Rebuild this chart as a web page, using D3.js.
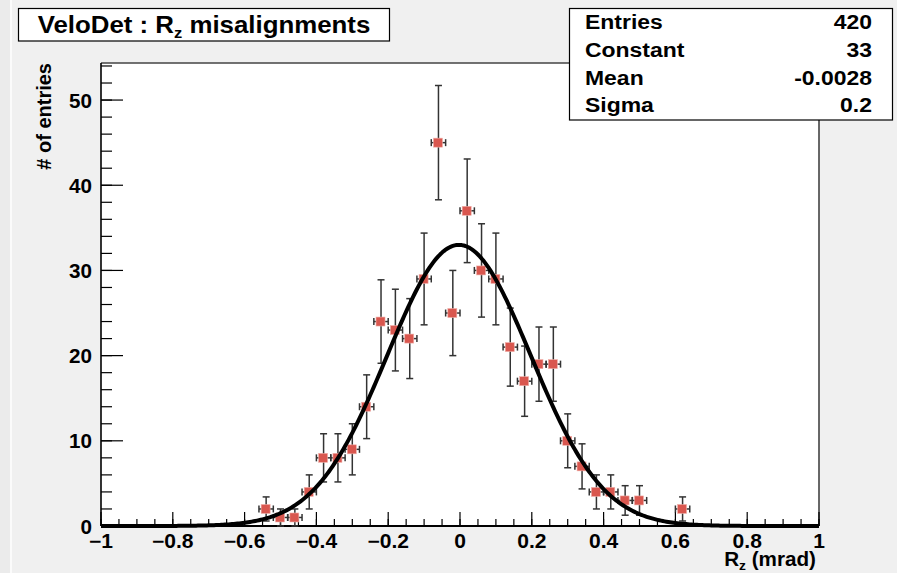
<!DOCTYPE html>
<html>
<head>
<meta charset="utf-8">
<script src="https://cdn.jsdelivr.net/npm/d3@7"></script>
<style>
  html, body { margin: 0; padding: 0; background: #f0f0f0; }
  svg { display: block; font-family: "Liberation Sans", Arial, Helvetica, sans-serif; font-weight: bold; }
</style>
</head>
<body>
<svg id="chart" width="897" height="573"></svg>
<script>
// Histogram: bin centres (width 0.04) and entry counts
const binCenters = [-0.54, -0.50, -0.46, -0.42, -0.38, -0.34, -0.30, -0.26, -0.22, -0.18,
                    -0.14, -0.10, -0.06, -0.02, 0.02, 0.06, 0.10, 0.14, 0.18, 0.22,
                    0.26, 0.30, 0.34, 0.38, 0.42, 0.46, 0.50, 0.54, 0.58, 0.62];
const counts = [2, 1, 1, 4, 8, 8, 9, 14, 24, 23,
                22, 29, 45, 25, 37, 30, 29, 21, 17, 19,
                19, 10, 7, 4, 4, 3, 3, 0, 0, 2];
const binWidth = 0.04;

// Gaussian fit parameters
const fitConstant = 33;
const fitMean = -0.0028;
const fitSigma = 0.2;

// Statistics box rows
const statLabels = ["Entries", "Constant", "Mean", "Sigma"];
const statValues = ["420", "33", "-0.0028", "0.2"];

// Axis ticks
const xTicks = [-1, -0.8, -0.6, -0.4, -0.2, 0, 0.2, 0.4, 0.6, 0.8, 1];
const yTicks = [0, 10, 20, 30, 40, 50];

const svg = d3.select("#chart");
const W = 897, H = 573;
const frame = { left: 101, right: 819, top: 63, bottom: 526 };

// Text placed at (px, py) and widened horizontally by factor k
const wide = (sel, px, py, k) => sel.attr("transform", `translate(${px},${py}) scale(${k},1)`);

svg.append("rect").attr("width", W).attr("height", H).attr("fill", "#f0f0f0");
svg.append("rect").attr("x", 0).attr("y", 0).attr("width", 10).attr("height", H).attr("fill", "#ebebeb");
svg.append("rect").attr("x", 10).attr("y", 0).attr("width", 2).attr("height", H).attr("fill", "#fbfbfb");

const x = d3.scaleLinear().domain([-1, 1]).range([frame.left, frame.right]);
const y = d3.scaleLinear().domain([0, 54.35]).range([frame.bottom, frame.top]);

// Plot frame
svg.append("rect")
  .attr("x", frame.left).attr("y", frame.top)
  .attr("width", frame.right - frame.left).attr("height", frame.bottom - frame.top)
  .attr("fill", "#ffffff");
svg.append("path")
  .attr("d", `M${frame.left},${frame.top}H${frame.right}V${frame.bottom}`)
  .attr("fill", "none").attr("stroke", "#444").attr("stroke-width", 1.6);

// X axis: major ticks every 0.2, minor every 0.05, drawn inwards
const xMinor = d3.range(-1, 1.0001, 0.05).map(v => +v.toFixed(2));
const gx = svg.append("g");
gx.selectAll("line.minor").data(xMinor).join("line")
  .attr("x1", d => x(d)).attr("x2", d => x(d))
  .attr("y1", frame.bottom).attr("y2", frame.bottom - 7)
  .attr("stroke", "#000").attr("stroke-width", 1.2);
gx.selectAll("line.major").data(xTicks).join("line")
  .attr("x1", d => x(d)).attr("x2", d => x(d))
  .attr("y1", frame.bottom).attr("y2", frame.bottom - 14)
  .attr("stroke", "#000").attr("stroke-width", 1.2);
gx.selectAll("text").data(xTicks).join("text")
  .each(function (d) { wide(d3.select(this), x(d), 548, 1.08); })
  .attr("text-anchor", "middle")
  .attr("font-size", 19.5)
  .attr("fill", "#000")
  .text(d => d3.format("")(d));

// Y axis: major ticks every 10, minor every 2, drawn inwards
const yMinor = d3.range(0, 54.1, 2);
const gy = svg.append("g");
gy.selectAll("line.minor").data(yMinor).join("line")
  .attr("x1", frame.left).attr("x2", frame.left + 11)
  .attr("y1", d => y(d)).attr("y2", d => y(d))
  .attr("stroke", "#000").attr("stroke-width", 1.2);
gy.selectAll("line.major").data(yTicks).join("line")
  .attr("x1", frame.left).attr("x2", frame.left + 22)
  .attr("y1", d => y(d)).attr("y2", d => y(d))
  .attr("stroke", "#000").attr("stroke-width", 1.2);
gy.selectAll("text").data(yTicks).join("text")
  .each(function (d) { wide(d3.select(this), 92, y(d) + 7.5, 1.06); })
  .attr("text-anchor", "end")
  .attr("font-size", 19.5)
  .attr("fill", "#000")
  .text(d => d);

// Axis lines
svg.append("line").attr("x1", frame.left).attr("x2", frame.left)
  .attr("y1", frame.top).attr("y2", frame.bottom)
  .attr("stroke", "#000").attr("stroke-width", 1.6);
svg.append("line").attr("x1", frame.left).attr("x2", frame.right)
  .attr("y1", frame.bottom).attr("y2", frame.bottom)
  .attr("stroke", "#000").attr("stroke-width", 2.2);

// Axis titles
const xt = wide(svg.append("text"), 816, 566, 1.06)
  .attr("text-anchor", "end").attr("font-size", 19.5).attr("fill", "#000");
xt.append("tspan").text("R");
xt.append("tspan").attr("font-size", 13).attr("dy", 4).text("z");
xt.append("tspan").attr("dy", -4).text(" (mrad)");

svg.append("text")
  .attr("transform", "translate(51,63) rotate(-90)")
  .attr("text-anchor", "end").attr("font-size", 20).attr("fill", "#000")
  .text("# of entries");

// Histogram points with statistical error bars
const points = binCenters.map((c, i) => ({ c, n: counts[i] })).filter(d => d.n > 0);
const gp = svg.append("g");
const errColor = "#333";
points.forEach(d => {
  const cx = x(d.c), cy = y(d.n);
  const e = Math.sqrt(d.n);
  const x0 = x(d.c - binWidth / 2), x1 = x(d.c + binWidth / 2);
  const yt = y(d.n + e), yb = y(Math.max(0, d.n - e));
  const g = gp.append("g");
  // vertical error
  g.append("line").attr("x1", cx).attr("x2", cx).attr("y1", yt).attr("y2", yb)
    .attr("stroke", errColor).attr("stroke-width", 1.5);
  g.append("line").attr("x1", cx - 3.5).attr("x2", cx + 3.5).attr("y1", yt).attr("y2", yt)
    .attr("stroke", errColor).attr("stroke-width", 1.5);
  g.append("line").attr("x1", cx - 3.5).attr("x2", cx + 3.5).attr("y1", yb).attr("y2", yb)
    .attr("stroke", errColor).attr("stroke-width", 1.5);
  // horizontal (bin width) error
  g.append("line").attr("x1", x0).attr("x2", x1).attr("y1", cy).attr("y2", cy)
    .attr("stroke", errColor).attr("stroke-width", 1.5);
  g.append("line").attr("x1", x0).attr("x2", x0).attr("y1", cy - 3.5).attr("y2", cy + 3.5)
    .attr("stroke", errColor).attr("stroke-width", 1.5);
  g.append("line").attr("x1", x1).attr("x2", x1).attr("y1", cy - 3.5).attr("y2", cy + 3.5)
    .attr("stroke", errColor).attr("stroke-width", 1.5);
  // marker
  g.append("rect").attr("x", cx - 5).attr("y", cy - 4.5).attr("width", 9).attr("height", 9)
    .attr("fill", "#d9574f").attr("stroke", "#f0b0aa").attr("stroke-width", 0.6);
});

// Gaussian fit curve
const gauss = v => fitConstant * Math.exp(-0.5 * Math.pow((v - fitMean) / fitSigma, 2));
const curveX = d3.range(-1, 1.0001, 0.005);
svg.append("path")
  .datum(curveX)
  .attr("d", d3.line().x(v => x(v)).y(v => y(gauss(v))))
  .attr("fill", "none").attr("stroke", "#000").attr("stroke-width", 4)
  .attr("stroke-linejoin", "round");

// Title box
svg.append("rect").attr("x", 18.5).attr("y", 8.5).attr("width", 371).attr("height", 32.5)
  .attr("fill", "#fff").attr("stroke", "#000").attr("stroke-width", 1.2);
const tt = wide(svg.append("text"), 204, 33, 1.1)
  .attr("text-anchor", "middle")
  .attr("font-size", 23.5).attr("fill", "#000");
tt.append("tspan").text("VeloDet : R");
tt.append("tspan").attr("font-size", 15).attr("dy", 5).text("z");
tt.append("tspan").attr("dy", -5).text(" misalignments");

// Statistics box
svg.append("rect").attr("x", 569.5).attr("y", 8.5).attr("width", 323).attr("height", 111.5)
  .attr("fill", "#fff").attr("stroke", "#000").attr("stroke-width", 1.2);
const rowY = [29, 57, 85, 112];
svg.append("g").selectAll("text").data(statLabels).join("text")
  .each(function (d, i) { wide(d3.select(this), 585, rowY[i], 1.12); })
  .attr("font-size", 20.5).attr("fill", "#000").text(d => d);
svg.append("g").selectAll("text").data(statValues).join("text")
  .each(function (d, i) { wide(d3.select(this), 872, rowY[i], 1.12); })
  .attr("text-anchor", "end")
  .attr("font-size", 20.5).attr("fill", "#000").text(d => d);
</script>
</body>
</html>
